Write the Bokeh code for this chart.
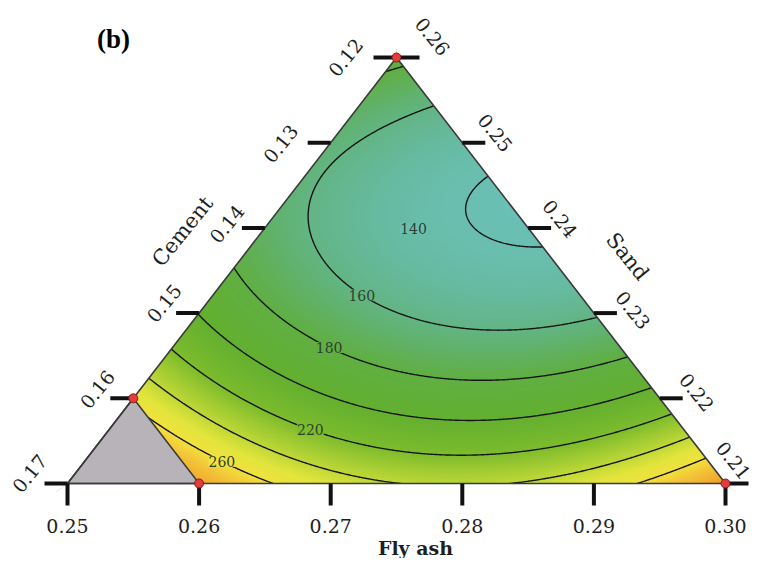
import numpy as np
from contourpy import contour_generator
from bokeh.plotting import figure
from bokeh.models import Range1d
from bokeh.core.properties import value
from bokeh.embed import file_html
from bokeh.resources import INLINE

# ---------------- data ----------------
fly_ash_ticks = [0.25, 0.26, 0.27, 0.28, 0.29, 0.30]
cement_ticks = [0.17, 0.16, 0.15, 0.14, 0.13, 0.12]
sand_ticks = [0.21, 0.22, 0.23, 0.24, 0.25, 0.26]
fly_ash_min, cement_min, sand_min, comp_span = 0.25, 0.12, 0.21, 0.05
mix_total = 0.63
cement_limit = 0.16          # region above this is excluded (grey)

# special-cubic Scheffe model in pseudo components (A = fly ash, B = sand, C = cement)
coef_A, coef_B, coef_C = 286.5, 185.3, 337.6
coef_AB, coef_AC, coef_BC, coef_ABC = -365.7, -287.0, -322.0, 200.0

contour_levels = [140, 160, 180, 200, 220, 240, 260]
labelled_levels = [140, 160, 180, 220, 260]

design_fly_ash = [0.25, 0.25, 0.26, 0.30]
design_cement = [0.12, 0.16, 0.16, 0.12]
design_sand = [0.26, 0.22, 0.21, 0.21]

# ---------------- layout / style ----------------
W, H = 755, 558
OX, OY = 67.0, 483.0          # picture px of left-bottom vertex
SX, SY = 658.0, 426.0         # px per unit of X and Y
PAGE = 0.0

def pxy(xp, yp):
    return (xp - OX) / SX, (OY - yp) / SY

def tern(F, S):
    a = (F - fly_ash_min) / comp_span
    b = (S - sand_min) / comp_span
    return a + b / 2.0, b

def model(a, b, c):
    return (coef_A * a + coef_B * b + coef_C * c + coef_AB * a * b
            + coef_AC * a * c + coef_BC * b * c + coef_ABC * a * b * c)

cmap_v = [125, 140, 150, 160, 170, 180, 200, 220, 230, 240, 250, 260, 270, 285, 300]
cmap_r = [112, 106, 102, 99, 96, 96, 100, 125, 160, 192, 226, 242, 243, 238, 230]
cmap_g = [198, 191, 186, 181, 177, 175, 176, 188, 203, 216, 229, 226, 195, 160, 130]
cmap_b = [194, 178, 158, 132, 98, 66, 48, 45, 50, 55, 60, 62, 55, 44, 38]

def cmap_hex(v):
    r = int(np.interp(v, cmap_v, cmap_r)); g = int(np.interp(v, cmap_v, cmap_g)); b = int(np.interp(v, cmap_v, cmap_b))
    return "#%02x%02x%02x" % (r, g, b)

x0 = (PAGE - OX) / SX
x1 = (PAGE + W - OX) / SX
y1 = (OY - PAGE) / SY
y0 = (OY - PAGE - H) / SY

p = figure(width=W, height=H, x_range=Range1d(x0, x1), y_range=Range1d(y0, y1),
           output_backend="svg", toolbar_location=None, min_border=0,
           x_axis_location=None, y_axis_location=None)
p.grid.visible = False
p.outline_line_color = None
p.background_fill_color = "white"
p.border_fill_color = "white"

# ---------------- field ----------------
e = 0.02
nx, ny = 720, 470
xs = np.linspace(-e, 1 + e, nx)
ys = np.linspace(-e, 1 + e, ny)
XX, YY = np.meshgrid(xs, ys)
Bp = YY
Ap = XX - YY / 2.0
Cp = 1.0 - Ap - Bp
Z = model(Ap, Bp, Cp)

img = np.empty((ny, nx), dtype=np.uint32)
view = img.view(dtype=np.uint8).reshape((ny, nx, 4))
view[..., 0] = np.interp(Z, cmap_v, cmap_r).astype(np.uint8)
view[..., 1] = np.interp(Z, cmap_v, cmap_g).astype(np.uint8)
view[..., 2] = np.interp(Z, cmap_v, cmap_b).astype(np.uint8)
view[..., 3] = 255
p.image_rgba(image=[img], x=-e, y=-e, dw=1 + 2 * e, dh=1 + 2 * e)

cg = contour_generator(x=xs, y=ys, z=Z)
cl_x, cl_y = [], []
level_lines = {}
for lev in contour_levels:
    segs = cg.lines(lev)
    level_lines[lev] = segs
    for s in segs:
        cl_x.append(s[:, 0]); cl_y.append(s[:, 1])

# contour label positions (picture px targets), snapped onto their contour
label_targets = {140: (413, 228), 160: (365, 289), 180: (333, 338), 220: (312, 422), 260: (217, 469)}
lab_x, lab_y, lab_t, lab_bg = [], [], [], []
for lev in labelled_levels:
    tx, ty = pxy(*label_targets[lev])
    best = None
    for s in level_lines[lev]:
        d = ((s[:, 0] - tx) * SX) ** 2 + ((s[:, 1] - ty) * SY) ** 2
        i = int(np.argmin(d))
        if best is None or d[i] < best[0]:
            best = (d[i], s[i, 0], s[i, 1])
    if best is None or best[0] > 400:
        bx, by = tx, ty
    else:
        bx, by = best[1], best[2]
    lab_x.append(bx); lab_y.append(by); lab_t.append(str(lev)); lab_bg.append(cmap_hex(lev))

p.multi_line(cl_x, cl_y, line_color="#151515", line_width=1.4)
p.text(lab_x, lab_y, text=lab_t, text_align="center", text_baseline="middle",
       text_font=value("DejaVu Serif"), text_font_size="14px", text_color="#2e3f2e",
       background_fill_color=lab_bg)

# ---------------- masks outside the triangle ----------------
BL = tern(fly_ash_min, sand_min)
BR = tern(fly_ash_min + comp_span, sand_min)
TP = tern(fly_ash_min, sand_min + comp_span)
big = 0.4
p.patches(xs=[[x0 - big, BL[0], TP[0], TP[0], x0 - big],
              [x1 + big, BR[0], TP[0], TP[0], x1 + big],
              [x0 - big, x1 + big, BR[0], BL[0]]],
          ys=[[y0 - big, BL[1], TP[1], y1 + big, y1 + big],
              [y0 - big, BR[1], TP[1], y1 + big, y1 + big],
              [y0 - big, y0 - big, BR[1], BL[1]]],
          fill_color="white", line_color=None)

# excluded region: cement above its limit
g1 = tern(fly_ash_min, mix_total - fly_ash_min - cement_limit)
g2 = tern(mix_total - sand_min - cement_limit, sand_min)
p.patch([BL[0], g1[0], g2[0]], [BL[1], g1[1], g2[1]], fill_color="#b8b3b8",
        line_color="#3a3a3a", line_width=1.5)

p.patch([BL[0], BR[0], TP[0]], [BL[1], BR[1], TP[1]], fill_color=None,
        line_color="#3a3a3a", line_width=1.6)

# ---------------- ternary ticks ----------------
TL = 23.0
sx0, sy0, sx1, sy1 = [], [], [], []
bot_pos = [tern(f, sand_min) for f in fly_ash_ticks]
for (bx, by) in bot_pos:
    sx0.append(bx); sy0.append(by); sx1.append(bx); sy1.append(by - 22.0 / SY)
left_pos = [tern(fly_ash_min, mix_total - fly_ash_min - c) for c in cement_ticks]
for (lx, ly) in left_pos:
    sx0.append(lx); sy0.append(ly); sx1.append(lx - TL / SX); sy1.append(ly)
right_pos = [tern(mix_total - cement_min - s, s) for s in sand_ticks]
for (rx, ry) in right_pos:
    sx0.append(rx); sy0.append(ry); sx1.append(rx + TL / SX); sy1.append(ry)
p.segment(sx0, sy0, sx1, sy1, line_color="#111111", line_width=4, line_cap="butt")

# design points
dpx, dpy = [], []
for f, s in zip(design_fly_ash, design_sand):
    q = tern(f, s); dpx.append(q[0]); dpy.append(q[1])
p.scatter(dpx, dpy, size=9, marker="circle", fill_color="#e23c3c", line_color="#8a1b1b", line_width=1)

# ---------------- tick labels ----------------
font = value("DejaVu Serif")
blx = [q[0] for q in bot_pos]
bly = [q[1] - 42.0 / SY for q in bot_pos]
p.text(blx, bly, text=["%.2f" % v for v in fly_ash_ticks], text_align="center",
       text_baseline="middle", text_font=font, text_font_size="19px", text_color="#1e1e1e")

left_off = [(-15, -10), (-13, -9), (-12, -10), (-15, -4), (-27, 1), (-28, 0)]
llx = [q[0] - TL / SX + o[0] / SX for q, o in zip(left_pos, left_off)]
lly = [q[1] - o[1] / SY for q, o in zip(left_pos, left_off)]
p.text(llx, lly, text=["%.2f" % v for v in cement_ticks], angle=np.deg2rad(51),
       text_align="center", text_baseline="middle", text_font=font,
       text_font_size="19px", text_color="#1e1e1e")

right_off = [(-15, -23), (14, -6), (16, -3), (9, -9), (10, -10), (13, -21)]
rlx = [q[0] + TL / SX + o[0] / SX for q, o in zip(right_pos, right_off)]
rly = [q[1] - o[1] / SY for q, o in zip(right_pos, right_off)]
p.text(rlx, rly, text=["%.2f" % v for v in sand_ticks], angle=np.deg2rad(-51),
       text_align="center", text_baseline="middle", text_font=font,
       text_font_size="19px", text_color="#1e1e1e")

# axis titles
cx, cy = pxy(182, 231)
p.text([cx], [cy], text=["Cement"], angle=np.deg2rad(51), text_align="center",
       text_baseline="middle", text_font=font, text_font_size="21px", text_color="#1e1e1e")
sx_, sy_ = pxy(627, 256)
p.text([sx_], [sy_], text=["Sand"], angle=np.deg2rad(-51), text_align="center",
       text_baseline="middle", text_font=font, text_font_size="21px", text_color="#1e1e1e")
fx, fy = pxy(415, 547)
p.text([fx], [fy], text=["Fly ash"], text_align="center", text_baseline="middle",
       text_font=font, text_font_size="19px", text_font_style="bold", text_color="#1e1e1e")
bx_, by_ = pxy(113, 38)
p.text([bx_], [by_], text=["(b)"], text_align="center", text_baseline="middle",
       text_font=value("Liberation Serif"), text_font_size="27px",
       text_font_style="bold", text_color="#000000")

open("out.html", "w").write(file_html(p, INLINE))
